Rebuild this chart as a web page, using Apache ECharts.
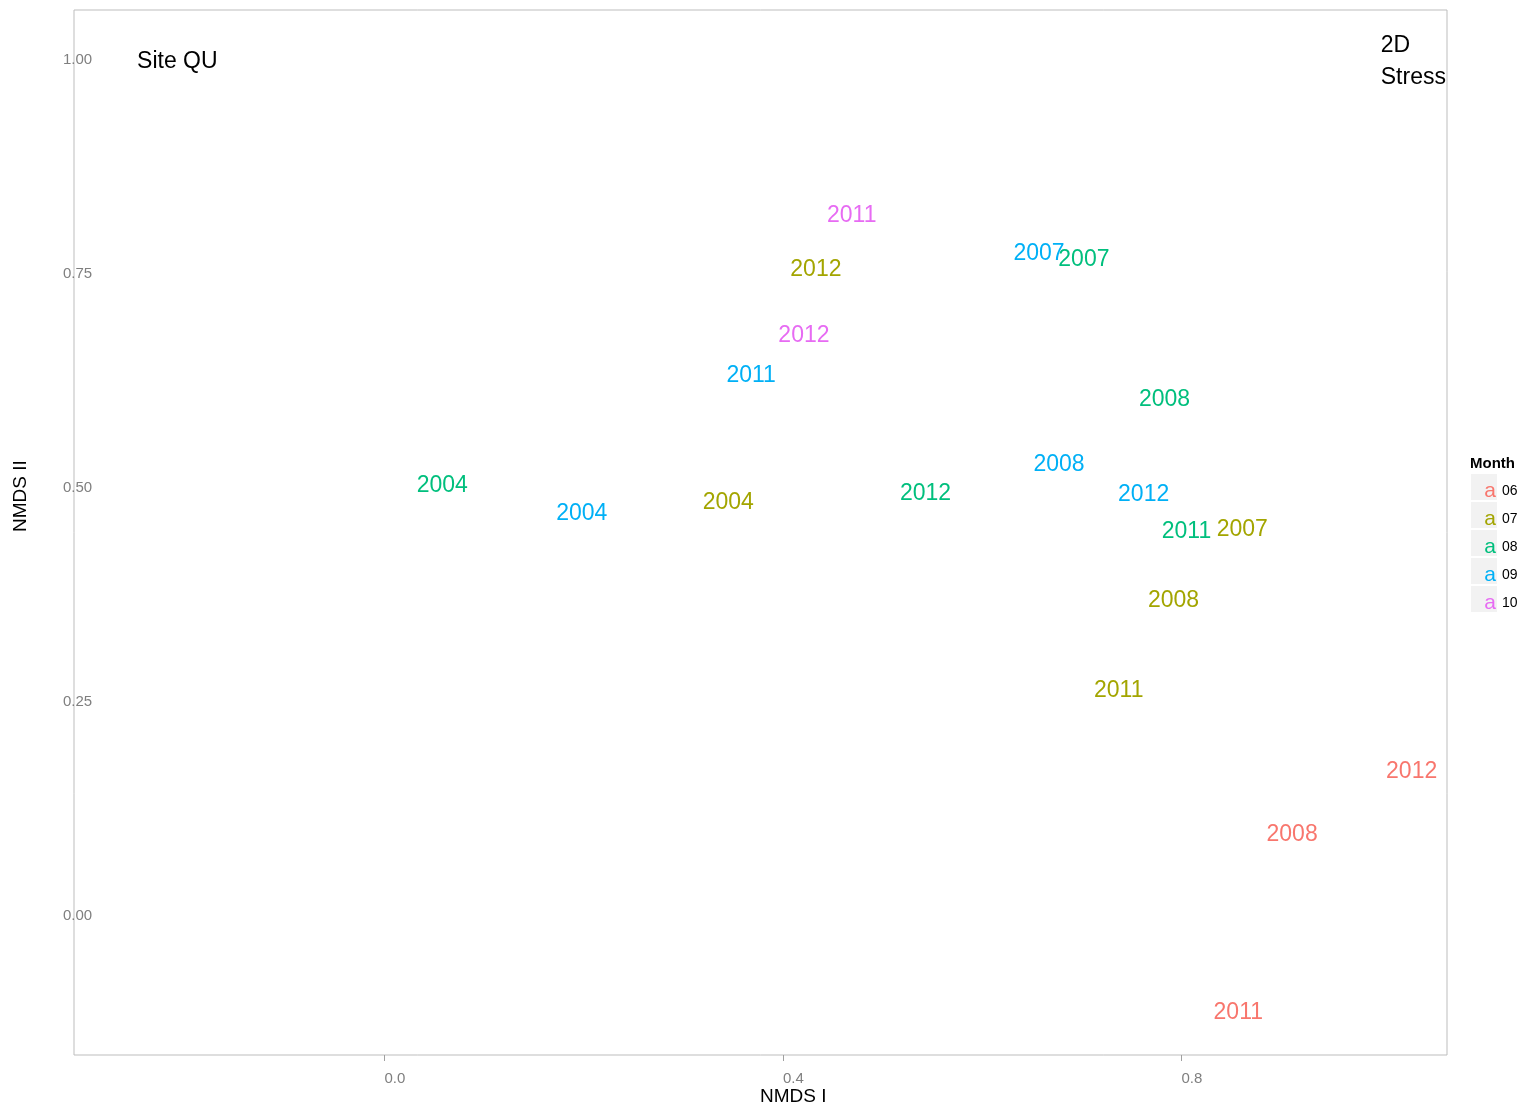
<!DOCTYPE html>
<html>
<head>
<meta charset="utf-8">
<title>Site QU NMDS</title>
<script src="https://cdn.jsdelivr.net/npm/echarts@6/dist/echarts.min.js"></script>
<style>
  html, body { margin: 0; padding: 0; background: #ffffff; }
  #chart { width: 1521px; height: 1109px; }
</style>
</head>
<body>
<div id="chart"></div>
<script>
// Sampling months and their colours
const months = ['06', '07', '08', '09', '10'];
const monthColors = ['#F8766D', '#A3A500', '#00BF7D', '#00B0F6', '#E76BF3'];

// NMDS ordination scores per month: year label, axis I, axis II
const years06 = ['2012', '2008', '2011'];
const nmds1_06 = [1.031, 0.911, 0.857];
const nmds2_06 = [0.171, 0.097, -0.111];

const years07 = ['2012', '2004', '2007', '2008', '2011'];
const nmds1_07 = [0.433, 0.345, 0.861, 0.792, 0.737];
const nmds2_07 = [0.757, 0.485, 0.454, 0.371, 0.265];

const years08 = ['2007', '2008', '2004', '2012', '2011'];
const nmds1_08 = [0.702, 0.783, 0.058, 0.543, 0.805];
const nmds2_08 = [0.769, 0.606, 0.505, 0.496, 0.451];

const years09 = ['2007', '2011', '2008', '2004', '2012'];
const nmds1_09 = [0.657, 0.368, 0.677, 0.198, 0.762];
const nmds2_09 = [0.776, 0.633, 0.530, 0.472, 0.495];

const years10 = ['2011', '2012'];
const nmds1_10 = [0.469, 0.421];
const nmds2_10 = [0.821, 0.680];

// Axis ticks
const xTicks = [0, 0.4, 0.8];
const yTicks = [0, 0.25, 0.5, 0.75, 1.0];

// Panel annotations
const siteLabel = 'Site QU';
const siteAt = [-0.208, 1.0];
const stressLabel = '2D\nStress';
const stressAt = [1.0, 1.0];

const byMonth = [
  [years06, nmds1_06, nmds2_06],
  [years07, nmds1_07, nmds2_07],
  [years08, nmds1_08, nmds2_08],
  [years09, nmds1_09, nmds2_09],
  [years10, nmds1_10, nmds2_10]
];

const FONT = 'Liberation Sans, Arial, Helvetica, sans-serif';

const yearSeries = byMonth.map(([yrs, xs, ys], i) => ({
  name: months[i],
  type: 'scatter',
  symbolSize: 0,
  silent: true,
  itemStyle: { opacity: 1, color: monthColors[i] },
  data: yrs.map((y, k) => [xs[k], ys[k], y]),
  label: {
    show: true,
    position: 'inside',
    offset: [0, 2],
    formatter: p => p.data[2],
    color: monthColors[i],
    fontSize: 23,
    fontFamily: FONT
  },
  z: 3
}));

const annotationSeries = [
  {
    type: 'scatter', symbolSize: 0, silent: true,
    itemStyle: { opacity: 1 },
    data: [[siteAt[0], siteAt[1], siteLabel]],
    label: {
      show: true, position: 'inside', offset: [0, 2], formatter: p => p.data[2],
      color: '#000000', fontSize: 23, fontFamily: FONT
    }
  },
  {
    type: 'scatter', symbolSize: 0, silent: true,
    itemStyle: { opacity: 1 },
    data: [[stressAt[0], stressAt[1], stressLabel]],
    label: {
      show: true, position: 'right', distance: 0, offset: [0, 2], formatter: p => p.data[2],
      color: '#000000', fontSize: 23, lineHeight: 32, fontFamily: FONT, align: 'left'
    }
  }
];

// Legend: grey key boxes with a coloured "a" glyph
const legendTop = 474, keyPitch = 28;
const legendItems = [{
  type: 'text', left: 1470, top: 456,
  style: { text: 'Month', font: 'bold 15px ' + FONT, fill: '#000' }
}];
months.forEach((m, i) => {
  const top = legendTop + i * keyPitch;
  legendItems.push({
    type: 'rect', shape: { x: 1471, y: top, width: 26, height: 26 },
    style: { fill: '#f2f2f2' }
  });
  legendItems.push({
    type: 'text', x: 1490, y: top + 17,
    style: { text: 'a', font: '21px ' + FONT, fill: monthColors[i], textAlign: 'center', textVerticalAlign: 'middle' }
  });
  legendItems.push({
    type: 'text', x: 1502, y: top + 17,
    style: { text: m, font: '14px ' + FONT, fill: '#000', textAlign: 'left', textVerticalAlign: 'middle' }
  });
});

const chart = echarts.init(document.getElementById('chart'), null, { renderer: 'canvas' });
chart.setOption({
  backgroundColor: '#ffffff',
  animation: false,
  grid: {
    left: 74, right: 74, top: 10, bottom: 54,
    show: true, borderColor: '#bdbdbd', borderWidth: 1, backgroundColor: '#ffffff'
  },
  xAxis: {
    type: 'value',
    min: -0.3117, max: 1.0665,
    axisLine: { show: false, onZero: false },
    splitLine: { show: false },
    axisTick: { show: true, customValues: xTicks, length: 6, lineStyle: { color: '#a0a0a0' } },
    axisLabel: {
      customValues: xTicks,
      formatter: v => v.toFixed(1),
      align: 'left', verticalAlign: 'middle', margin: 24,
      color: '#7f7f7f', fontSize: 15, fontFamily: FONT
    }
  },
  yAxis: {
    type: 'value',
    min: -0.1624, max: 1.0584,
    axisLine: { show: false, onZero: false },
    splitLine: { show: false },
    axisTick: { show: false },
    axisLabel: {
      customValues: yTicks,
      formatter: v => v.toFixed(2),
      align: 'left', verticalAlign: 'middle', margin: 11,
      padding: [4, 0, 0, 0],
      color: '#7f7f7f', fontSize: 15, fontFamily: FONT
    }
  },
  graphic: [
    {
      type: 'text', x: 760, y: 1097,
      style: { text: 'NMDS I', font: '19px ' + FONT, fill: '#000', textAlign: 'left', textVerticalAlign: 'middle' }
    },
    {
      type: 'text', x: 20.5, y: 532, rotation: Math.PI / 2,
      style: { text: 'NMDS II', font: '19px ' + FONT, fill: '#000', textAlign: 'left', textVerticalAlign: 'middle' }
    },
    ...legendItems
  ],
  series: [...yearSeries, ...annotationSeries]
});
</script>
</body>
</html>
